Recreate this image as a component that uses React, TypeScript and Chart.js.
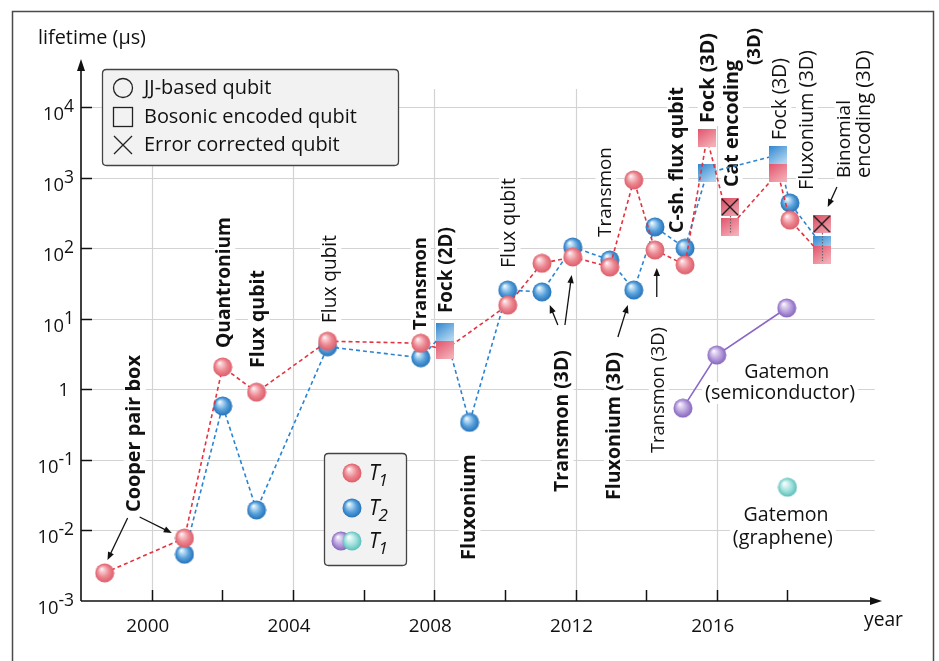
import React, { useEffect, useRef } from "react";
import { Chart, registerables } from "chart.js";

Chart.register(...registerables);

// ---------- data (years, lifetimes in µs) ----------
const t1Years = [1998.67, 2000.93, 2002.01, 2002.97, 2004.98, 2007.62, 2008.3, 2010.08, 2011.05, 2011.92, 2012.97, 2013.65, 2014.25, 2015.1, 2015.72, 2016.37, 2017.73, 2018.07, 2018.97];
const t1Values = [0.0025, 0.0078, 2.07, 0.91, 4.8, 4.5, 3.6, 15.6, 61, 75, 54, 925, 94, 58, 3640, 200, 1160, 250, 80];
const t1Shapes = ["ball", "ball", "ball", "ball", "ball", "ball", "square", "ball", "ball", "ball", "ball", "ball", "ball", "ball", "square", "square", "square", "ball", "square"];

const t2Years = [2000.93, 2002.01, 2002.97, 2004.98, 2007.62, 2008.3, 2009.0, 2010.08, 2011.05, 2011.92, 2012.97, 2013.65, 2014.25, 2015.1, 2015.72, 2017.73, 2018.07, 2018.97];
const t2Values = [0.0046, 0.58, 0.0195, 4.0, 2.8, 6.5, 0.34, 25.5, 24, 104, 68, 25.5, 200, 100, 1160, 2090, 437, 111];
const t2Shapes = ["ball", "ball", "ball", "ball", "ball", "square", "ball", "ball", "ball", "ball", "ball", "ball", "ball", "ball", "square", "square", "ball", "square"];

const ecYears = [2016.37, 2018.97];
const ecValues = [383, 220];
const ecUncorrectedValues = [200, 80];

const gateSemiYears = [2015.04, 2016.0, 2017.98];
const gateSemiValues = [0.54, 3.06, 14.2];
const gateGrapheneYears = [2018.0];
const gateGrapheneValues = [0.041];

const yearTicks = [2000, 2002, 2004, 2006, 2008, 2010, 2012, 2014, 2016, 2018];
const yearLabels = [2000, 2004, 2008, 2012, 2016];
const decadeExps = [-3, -2, -1, 0, 1, 2, 3, 4];

// annotation texts: [text, bold, rotated, year, log10(value), length px]
const notes: [string, boolean, boolean, number, number, number][] = [
  ["Cooper pair box", true, true, 1999.52, -0.627, 157],
  ["Quantronium", true, true, 2002.07, 1.513, 131],
  ["Flux qubit", true, true, 2003.03, 0.996, 98],
  ["Flux qubit", false, true, 2005.07, 1.563, 88],
  ["Transmon", true, true, 2007.62, 1.499, 93],
  ["Fock (2D)", true, true, 2008.35, 1.69, 86],
  ["Fluxonium", true, true, 2009.0, -1.668, 106],
  ["Flux qubit", false, true, 2010.14, 2.356, 90],
  ["Transmon (3D)", true, true, 2011.64, -0.449, 142],
  ["Transmon", false, true, 2012.86, 2.796, 90],
  ["Fluxonium (3D)", true, true, 2013.11, -0.52, 148],
  ["Transmon (3D)", false, true, 2014.36, -0.01, 126],
  ["C-sh. flux qubit", true, true, 2014.9, 3.249, 146],
  ["Fock (3D)", true, true, 2015.77, 4.411, 90],
  ["Cat encoding", true, true, 2016.43, 3.766, 127],
  ["(3D)", true, true, 2017.08, 4.857, 37],
  ["Fock (3D)", false, true, 2017.81, 4.113, 82],
  ["Fluxonium (3D)", false, true, 2018.55, 3.816, 140],
  ["Binomial", false, true, 2019.63, 3.547, 78],
  ["encoding (3D)", false, true, 2020.19, 3.9, 128],
  ["Gatemon", false, false, 2017.98, 0.245, 85],
  ["(semiconductor)", false, false, 2017.79, -0.053, 150],
  ["Gatemon", false, false, 2017.96, -1.781, 85],
  ["(graphene)", false, false, 2017.87, -2.107, 100],
];

// arrows: [fromYear, fromLog, toYear, toLog]
const arrows: [number, number, number, number][] = [
  [1999.32, -1.824, 1998.75, -2.419],
  [1999.66, -1.81, 2000.57, -2.037],
  [2011.5, 0.911, 2011.27, 1.194],
  [2011.7, 0.911, 2011.89, 1.619],
  [2013.2, 0.741, 2013.48, 1.194],
  [2014.3, 1.308, 2014.3, 1.719],
  [2019.4, 2.866, 2019.14, 2.583],
];

const FONT = '"Open Sans", "DejaVu Sans", sans-serif';

function fitFont(ctx: CanvasRenderingContext2D, text: string, prefix: string, len: number) {
  ctx.font = `${prefix}18px ${FONT}`;
  const w = ctx.measureText(text).width;
  const s = (18 * len) / w;
  return `${prefix}${s.toFixed(2)}px ${FONT}`;
}

function makeBall(stops: string[], d = 19) {
  const cv = document.createElement("canvas");
  cv.width = d + 1;
  cv.height = d + 1;
  const g = cv.getContext("2d")!;
  const r = d / 2;
  const c = cv.width / 2;
  const grad = g.createRadialGradient(c - r * 0.35, c - r * 0.45, 0, c, c, r);
  grad.addColorStop(0, stops[0]);
  grad.addColorStop(0.2, stops[1]);
  grad.addColorStop(0.62, stops[2]);
  grad.addColorStop(1, stops[3]);
  g.fillStyle = grad;
  g.beginPath();
  g.arc(c, c, r, 0, Math.PI * 2);
  g.fill();
  return cv;
}

function makeSquare(c0: string, c1: string, cross = false, s = 18) {
  const cv = document.createElement("canvas");
  cv.width = s;
  cv.height = s;
  const g = cv.getContext("2d")!;
  const grad = g.createLinearGradient(0, 0, s * 0.7, s);
  grad.addColorStop(0, c0);
  grad.addColorStop(1, c1);
  g.fillStyle = grad;
  g.fillRect(0, 0, s, s);
  if (cross) {
    g.strokeStyle = "#151515";
    g.lineWidth = 1.3;
    g.beginPath();
    g.moveTo(1, 1);
    g.lineTo(s - 1, s - 1);
    g.moveTo(s - 1, 1);
    g.lineTo(1, s - 1);
    g.stroke();
  }
  return cv;
}

function arrowLine(ctx: CanvasRenderingContext2D, x1: number, y1: number, x2: number, y2: number, head = 8) {
  const ang = Math.atan2(y2 - y1, x2 - x1);
  ctx.beginPath();
  ctx.moveTo(x1, y1);
  ctx.lineTo(x2 - Math.cos(ang) * head * 0.8, y2 - Math.sin(ang) * head * 0.8);
  ctx.stroke();
  ctx.beginPath();
  ctx.moveTo(x2, y2);
  ctx.lineTo(x2 - Math.cos(ang) * head + Math.sin(ang) * 3.2, y2 - Math.sin(ang) * head - Math.cos(ang) * 3.2);
  ctx.lineTo(x2 - Math.cos(ang) * head - Math.sin(ang) * 3.2, y2 - Math.sin(ang) * head + Math.cos(ang) * 3.2);
  ctx.closePath();
  ctx.fill();
}

function roundRect(ctx: CanvasRenderingContext2D, x: number, y: number, w: number, h: number, r: number) {
  ctx.beginPath();
  ctx.moveTo(x + r, y);
  ctx.lineTo(x + w - r, y);
  ctx.quadraticCurveTo(x + w, y, x + w, y + r);
  ctx.lineTo(x + w, y + h - r);
  ctx.quadraticCurveTo(x + w, y + h, x + w - r, y + h);
  ctx.lineTo(x + r, y + h);
  ctx.quadraticCurveTo(x, y + h, x, y + h - r);
  ctx.lineTo(x, y + r);
  ctx.quadraticCurveTo(x, y, x + r, y);
  ctx.closePath();
}

export default function App() {
  const ref = useRef<HTMLCanvasElement>(null);

  useEffect(() => {
    const canvas = ref.current!;
    const redBall = makeBall(["#ffffff", "#f9d0d4", "#ec8690", "#dc5e6a"]);
    const blueBall = makeBall(["#ffffff", "#c4e1f5", "#559fdb", "#2672b8"]);
    const purpleBall = makeBall(["#ffffff", "#e6dbf3", "#b49cdb", "#8664bd"]);
    const cyanBall = makeBall(["#ffffff", "#e2f7f5", "#9ddfdb", "#5bbfba"]);
    const redSquare = makeSquare("#e2536b", "#f4adb6");
    const blueSquare = makeSquare("#2f86cf", "#b0d5f0");
    const xSquare = makeSquare("#d84a5e", "#eea0ab", true);

    const decor = {
      id: "decor",
      beforeDraw(chart: any) {
        const ctx = chart.ctx;
        ctx.save();
        ctx.fillStyle = "#ffffff";
        ctx.fillRect(0, 0, chart.width, chart.height);
        ctx.restore();
      },
      beforeDatasetsDraw(chart: any) {
        const ctx: CanvasRenderingContext2D = chart.ctx;
        const xs = chart.scales.x;
        const ys = chart.scales.y;
        const X = (v: number) => xs.getPixelForValue(v);
        const Y = (lg: number) => ys.getPixelForValue(Math.pow(10, lg));
        const a = chart.chartArea;
        ctx.save();

        // outer frame
        ctx.strokeStyle = "#4a4a4a";
        ctx.lineWidth = 1.5;
        ctx.beginPath();
        ctx.moveTo(12.5, 661);
        ctx.lineTo(12.5, 11.5);
        ctx.lineTo(933.5, 11.5);
        ctx.lineTo(933.5, 661);
        ctx.stroke();

        // grid
        ctx.strokeStyle = "#d3d3d3";
        ctx.lineWidth = 1.2;
        yearLabels.forEach((yr) => {
          const x = Math.round(X(yr)) + 0.5;
          ctx.beginPath();
          ctx.moveTo(x, Y(4.255));
          ctx.lineTo(x, a.bottom);
          ctx.stroke();
        });
        decadeExps.forEach((e) => {
          if (e === -3) return;
          const y = Math.round(Y(e)) + 0.5;
          ctx.beginPath();
          ctx.moveTo(a.left, y);
          ctx.lineTo(X(2020.47), y);
          ctx.stroke();
        });

        // annotations
        notes.forEach(([text, bold, rot, yr, lg, len]) => {
          const font = fitFont(ctx, text, bold ? "bold " : "", len);
          ctx.font = font;
          const w = ctx.measureText(text).width;
          const fs = parseFloat(font.replace(/^bold /, ""));
          ctx.save();
          ctx.translate(X(yr), Y(lg));
          if (rot) ctx.rotate(-Math.PI / 2);
          ctx.fillStyle = "#ffffff";
          ctx.fillRect(-w / 2 - 3, -fs * 0.55, w + 6, fs * 1.1);
          ctx.fillStyle = "#111111";
          ctx.textAlign = "center";
          ctx.textBaseline = "middle";
          ctx.fillText(text, 0, 0);
          ctx.restore();
        });

        ctx.strokeStyle = "#111111";
        ctx.fillStyle = "#111111";
        ctx.lineWidth = 1.3;
        arrows.forEach(([y1, l1, y2, l2]) => arrowLine(ctx, X(y1), Y(l1), X(y2), Y(l2)));

        // axes
        ctx.lineWidth = 1.6;
        ctx.beginPath();
        ctx.moveTo(a.left, a.bottom);
        ctx.lineTo(a.left, a.top + 4);
        ctx.moveTo(a.left, a.bottom);
        ctx.lineTo(a.right - 4, a.bottom);
        ctx.stroke();
        ctx.beginPath();
        ctx.moveTo(a.left, a.top - 3);
        ctx.lineTo(a.left - 4, a.top + 9);
        ctx.lineTo(a.left + 4, a.top + 9);
        ctx.closePath();
        ctx.fill();
        ctx.beginPath();
        ctx.moveTo(a.right + 2, a.bottom);
        ctx.lineTo(a.right - 10, a.bottom - 4);
        ctx.lineTo(a.right - 10, a.bottom + 4);
        ctx.closePath();
        ctx.fill();

        // tick marks
        ctx.lineWidth = 1.5;
        yearTicks.forEach((yr) => {
          const x = Math.round(X(yr)) + 0.5;
          ctx.beginPath();
          ctx.moveTo(x, a.bottom);
          ctx.lineTo(x, a.bottom - 11);
          ctx.stroke();
        });
        decadeExps.forEach((e) => {
          if (e === -3) return;
          const y = Math.round(Y(e)) + 0.5;
          ctx.beginPath();
          ctx.moveTo(a.left, y);
          ctx.lineTo(a.left + 11, y);
          ctx.stroke();
        });

        // tick labels
        ctx.fillStyle = "#111111";
        ctx.font = fitFont(ctx, "2000", "", 43);
        ctx.textAlign = "center";
        ctx.textBaseline = "alphabetic";
        yearLabels.forEach((yr) => ctx.fillText(String(yr), X(yr) - 4, a.bottom + 31));

        ctx.textAlign = "right";
        const baseFont = fitFont(ctx, "10", "", 21);
        const expFont = fitFont(ctx, "4", "", 10);
        decadeExps.forEach((e) => {
          const y = Y(e);
          if (e === 0) {
            ctx.font = baseFont;
            ctx.fillText("1", a.left - 12, y + 7);
            return;
          }
          const exp = e < 0 ? "-" + Math.abs(e) : String(e);
          ctx.font = expFont;
          const ew = ctx.measureText(exp).width;
          ctx.fillText(exp, a.left - 7, y + 5);
          ctx.font = baseFont;
          ctx.fillText("10", a.left - 7 - ew, y + 13);
        });

        // axis titles
        ctx.textAlign = "left";
        ctx.font = fitFont(ctx, "lifetime (µs)", "", 108);
        ctx.fillText("lifetime (µs)", 38, 44);
        ctx.font = fitFont(ctx, "year", "", 39);
        ctx.fillText("year", 864, 626);

        ctx.restore();
      },
      afterDatasetDraw(chart: any, args: any) {
        if (args.index !== 0) return;
        const ctx: CanvasRenderingContext2D = chart.ctx;
        const xs = chart.scales.x;
        const ys = chart.scales.y;
        ctx.save();
        ctx.strokeStyle = "#6a6a6a";
        ctx.lineWidth = 1.2;
        ctx.setLineDash([1.5, 1.5]);
        ecYears.forEach((yr, i) => {
          const x = Math.round(xs.getPixelForValue(yr)) + 0.5;
          ctx.beginPath();
          ctx.moveTo(x, ys.getPixelForValue(ecValues[i]));
          ctx.lineTo(x, ys.getPixelForValue(ecUncorrectedValues[i]) + 6);
          ctx.stroke();
        });
        ctx.restore();
      },
      afterDraw(chart: any) {
        const ctx: CanvasRenderingContext2D = chart.ctx;
        ctx.save();
        // legend 1
        roundRect(ctx, 102.5, 69.5, 296, 96, 4);
        ctx.fillStyle = "#f2f2f2";
        ctx.fill();
        ctx.strokeStyle = "#444444";
        ctx.lineWidth = 1.3;
        ctx.stroke();
        ctx.strokeStyle = "#222222";
        ctx.lineWidth = 1.3;
        ctx.beginPath();
        ctx.arc(123, 88, 9.5, 0, Math.PI * 2);
        ctx.stroke();
        ctx.strokeRect(113.5, 107.5, 19, 19);
        ctx.beginPath();
        ctx.moveTo(114, 136);
        ctx.lineTo(132, 154);
        ctx.moveTo(132, 136);
        ctx.lineTo(114, 154);
        ctx.stroke();
        ctx.fillStyle = "#111111";
        ctx.font = fitFont(ctx, "Bosonic encoded qubit", "", 213);
        ctx.textAlign = "left";
        ctx.textBaseline = "middle";
        ctx.fillText("JJ-based qubit", 144, 88);
        ctx.fillText("Bosonic encoded qubit", 144, 117);
        ctx.fillText("Error corrected qubit", 144, 145);

        // legend 2
        roundRect(ctx, 324.5, 453.5, 82, 112, 4);
        ctx.fillStyle = "#f2f2f2";
        ctx.fill();
        ctx.strokeStyle = "#444444";
        ctx.stroke();
        const put = (img: HTMLCanvasElement, x: number, y: number) =>
          ctx.drawImage(img, x - img.width / 2, y - img.height / 2);
        put(redBall, 352, 473);
        put(blueBall, 352, 508);
        put(purpleBall, 341, 541);
        put(cyanBall, 352, 541);
        ctx.fillStyle = "#111111";
        ctx.textBaseline = "alphabetic";
        const rows: [string, number][] = [["1", 473], ["2", 508], ["1", 541]];
        rows.forEach(([sub, y]) => {
          ctx.font = `italic 21px ${FONT}`;
          ctx.fillText("T", 369, y + 7);
          const tw = ctx.measureText("T").width;
          ctx.font = `italic 17px ${FONT}`;
          ctx.fillText(sub, 369 + tw - 1, y + 13);
        });
        ctx.restore();
      },
    };

    const chart = new Chart(canvas, {
      type: "scatter",
      data: {
        datasets: [
          {
            label: "T1",
            data: t1Years.map((x, i) => ({ x, y: t1Values[i] })),
            showLine: true,
            borderColor: "#e4323f",
            borderWidth: 1.6,
            borderDash: [4, 3],
            pointStyle: t1Shapes.map((s) => (s === "square" ? redSquare : redBall)) as any,
            pointRadius: 9,
            order: 2,
            clip: false as any,
          },
          {
            label: "T2",
            data: t2Years.map((x, i) => ({ x, y: t2Values[i] })),
            showLine: true,
            borderColor: "#2a84d0",
            borderWidth: 1.6,
            borderDash: [4, 3],
            pointStyle: t2Shapes.map((s) => (s === "square" ? blueSquare : blueBall)) as any,
            pointRadius: 9,
            order: 3,
            clip: false as any,
          },
          {
            label: "Error corrected",
            data: ecYears.map((x, i) => ({ x, y: ecValues[i] })),
            showLine: false,
            pointStyle: xSquare as any,
            pointRadius: 9,
            order: 1,
            clip: false as any,
          },
          {
            label: "Gatemon (semiconductor)",
            data: gateSemiYears.map((x, i) => ({ x, y: gateSemiValues[i] })),
            showLine: true,
            borderColor: "#8b67c5",
            borderWidth: 1.6,
            pointStyle: purpleBall as any,
            pointRadius: 9,
            order: 4,
            clip: false as any,
          },
          {
            label: "Gatemon (graphene)",
            data: gateGrapheneYears.map((x, i) => ({ x, y: gateGrapheneValues[i] })),
            showLine: false,
            pointStyle: cyanBall as any,
            pointRadius: 9,
            order: 4,
            clip: false as any,
          },
        ],
      },
      options: {
        responsive: false,
        animation: false,
        devicePixelRatio: 1,
        events: [],
        layout: { padding: { left: 0, top: 62, right: 59, bottom: 0 } },
        plugins: { legend: { display: false }, tooltip: { enabled: false } },
        scales: {
          x: {
            type: "linear",
            min: 1998,
            max: 2020.62,
            grid: { display: false },
            border: { display: false },
            ticks: { display: false },
            afterFit: (s: any) => {
              s.height = 60;
            },
          },
          y: {
            type: "logarithmic",
            min: 0.001,
            max: Math.pow(10, 4.638),
            grid: { display: false },
            border: { display: false },
            ticks: { display: false },
            afterFit: (s: any) => {
              s.width = 81;
            },
          },
        },
      },
      plugins: [decor],
    } as any);

    return () => chart.destroy();
  }, []);

  return (
    <div style={{ position: "fixed", left: 0, top: 0, width: 939, height: 661, background: "#fff" }}>
      <canvas ref={ref} width={939} height={661} style={{ width: 939, height: 661, display: "block" }} />
    </div>
  );
}
